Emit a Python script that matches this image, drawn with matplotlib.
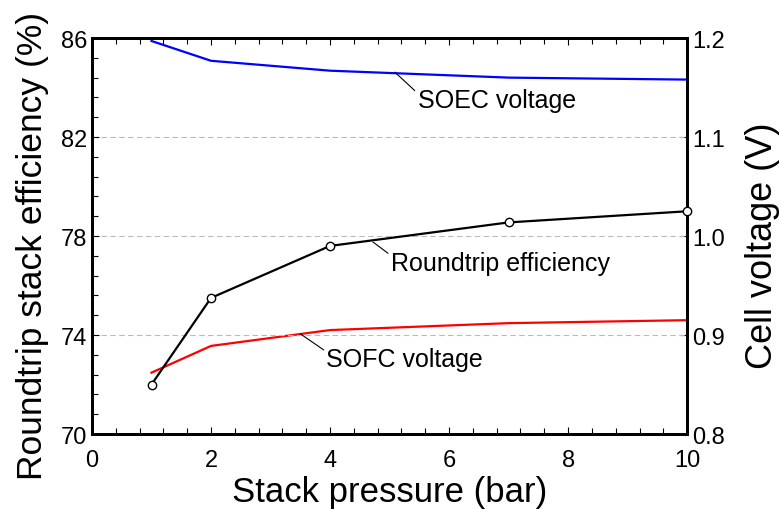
import matplotlib
matplotlib.use("Agg")
import matplotlib.pyplot as plt
import numpy as np
from matplotlib.ticker import FormatStrFormatter

plt.rcParams["font.family"] = ["Liberation Sans", "DejaVu Sans"]

# data
pressure = [1, 2, 4, 7, 10]                       # bar
roundtrip_eff = [72.0, 75.5, 77.6, 78.55, 79.0]   # %
soec_voltage = [1.197, 1.177, 1.167, 1.160, 1.158]  # V
sofc_voltage = [0.862, 0.889, 0.905, 0.912, 0.915]  # V

eff_ticks = [70, 74, 78, 82, 86]
volt_ticks = [0.8, 0.9, 1.0, 1.1, 1.2]
x_ticks = [0, 2, 4, 6, 8, 10]

fig = plt.figure(figsize=(7.81, 5.10), dpi=100)
ax = fig.add_axes([0.1178, 0.147, 0.762, 0.7765])
ax2 = ax.twinx()

ax.set_xlim(0, 10)
ax.set_ylim(70, 86)
ax2.set_ylim(0.8, 1.2)

ax.set_xticks(x_ticks)
ax.set_xticks(np.arange(0, 10.01, 0.4), minor=True)
ax.set_yticks(eff_ticks)
ax.set_yticks(np.arange(70, 86.01, 0.8), minor=True)
ax2.set_yticks(volt_ticks)
ax2.yaxis.set_major_formatter(FormatStrFormatter("%.1f"))

ax.grid(axis="y", which="major", ls=(0, (5, 3)), color="#bbbbbb", lw=0.8)
ax.set_axisbelow(True)

ax.plot(pressure, roundtrip_eff, color="black", lw=1.6, marker="o", ms=6,
        mfc="white", mec="black", mew=1.0, zorder=5, clip_on=False)
ax2.plot(pressure, soec_voltage, color="#0000ff", lw=1.6)
ax2.plot(pressure, sofc_voltage, color="#ff0000", lw=1.6)
ax.set_zorder(ax2.get_zorder() + 1)
ax.patch.set_visible(False)

lead = dict(arrowstyle="-", lw=0.8, color="black", shrinkA=0, shrinkB=0,
            relpos=(0.0, 0.8))
ax2.annotate("SOEC voltage", xy=(5.09, 1.1655), xytext=(5.47, 1.137),
             fontsize=18, ha="left", va="center", arrowprops=lead)
ax.annotate("Roundtrip efficiency", xy=(4.72, 77.76), xytext=(5.02, 76.93),
            fontsize=18, ha="left", va="center", arrowprops=lead)
ax.annotate("SOFC voltage", xy=(3.5, 74.05), xytext=(3.94, 73.03),
            fontsize=18, ha="left", va="center", arrowprops=lead)

ax.tick_params(which="both", direction="in", top=True, right=False,
               labelsize=17, width=0.8)
ax.tick_params(which="major", length=5)
ax.tick_params(which="minor", length=4)
ax.tick_params(axis="x", which="major", pad=11)
ax2.tick_params(which="both", direction="in", labelsize=17, length=5, width=0.8)

for a in (ax, ax2):
    for s in a.spines.values():
        s.set_linewidth(2.0)

ax.set_xlabel("Stack pressure (bar)", fontsize=25, labelpad=3)
ax.set_ylabel("Roundtrip stack efficiency (%)", fontsize=25.5, labelpad=12)
ax.yaxis.set_label_coords(-0.073, 0.477)
ax2.set_ylabel("Cell voltage (V)", fontsize=26, rotation=90, labelpad=16)
ax2.yaxis.set_label_coords(1.098, 0.477)

fig.savefig("out.png", dpi=100)
